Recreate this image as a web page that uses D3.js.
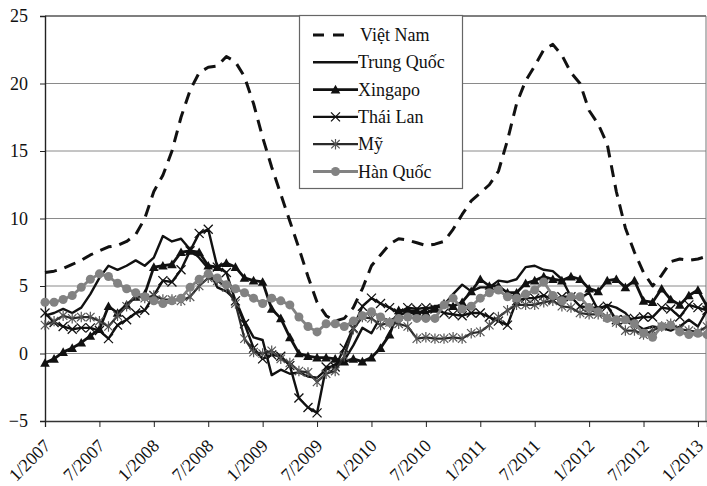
<!DOCTYPE html>
<html>
<head>
<meta charset="utf-8">
<script src="https://cdn.jsdelivr.net/npm/d3@7"></script>
<style>
html,body{margin:0;padding:0;background:#fff;}
svg{display:block;}
text{font-family:"Liberation Serif","Times New Roman",serif;}
</style>
</head>
<body>
<svg id="chart" width="707" height="486"></svg>
<script>
// ---- data (monthly, 1/2007 .. 2/2013) ----
const nMonths = 74;
const tickLabels = ["1/2007","7/2007","1/2008","7/2008","1/2009","7/2009","1/2010","7/2010","1/2011","7/2011","1/2012","7/2012","1/2013"];
const yTicks = [-5, 0, 5, 10, 15, 20, 25];

const vietNam = [
  6.0, 6.1, 6.3, 6.6, 6.9, 7.3, 7.6, 7.9, 8.0, 8.3, 8.8, 10.0,
  12.0, 13.2, 15.0, 17.5, 19.5, 20.8, 21.2, 21.3, 22.0, 21.6, 20.5, 18.5,
  16.0, 13.8, 11.8, 9.8, 7.8, 5.7, 3.8, 2.8, 2.4, 2.6, 3.4, 4.8,
  6.5, 7.3, 8.1, 8.5, 8.4, 8.2, 8.0, 8.1, 8.3, 9.2, 10.3, 11.3,
  11.9, 12.5, 13.5, 15.8, 18.5, 20.2, 21.3, 22.5, 22.9, 22.1, 20.8, 20.0,
  18.0, 17.0, 15.5, 12.0, 9.3, 7.5, 6.0, 5.0, 5.8, 6.8, 7.0, 6.9,
  7.0, 7.2
];
const trungQuoc = [
  2.8, 3.0, 3.3, 3.0, 3.4, 4.4, 5.6, 6.5, 6.2, 6.5, 6.9, 6.5,
  7.1, 8.7, 8.3, 8.5, 7.7, 7.1, 6.3, 4.9, 4.6, 4.0, 2.4, 1.2,
  1.0, -1.6, -1.2, -1.5, -1.4, -1.7, -1.8, -1.2, -0.8, -0.5, 0.6, 1.9,
  1.5, 2.7, 2.4, 2.8, 3.1, 2.9, 3.3, 3.5, 3.6, 4.4, 5.1, 4.6,
  4.9, 4.9, 5.4, 5.3, 5.5, 6.4, 6.5, 6.2, 6.1, 5.5, 4.2, 4.1,
  4.5, 3.2, 3.6, 3.4, 3.0, 2.2, 1.8, 2.0, 1.9, 1.7, 2.0, 2.5,
  2.0, 3.2
];
const xingapo = [
  -0.7, -0.4, 0.1, 0.4, 0.8, 1.3, 1.8, 3.5, 3.0, 3.6, 4.2, 4.4,
  6.4, 6.5, 6.6, 7.5, 7.6, 7.5, 6.5, 6.4, 6.7, 6.4, 5.6, 5.4,
  5.3, 3.3, 2.6, 1.2, 0.0, -0.2, -0.3, -0.3, -0.4, -0.6, -0.4, -0.6,
  -0.3, 0.4, 1.4, 3.2, 3.2, 3.1, 3.0, 3.3, 3.7, 3.5, 3.8, 4.6,
  5.5, 5.0, 5.0, 4.5, 4.5, 5.2, 5.4, 5.7, 5.5, 5.4, 5.7, 5.5,
  4.8, 4.6, 5.4, 5.5, 4.9, 5.4, 3.9, 3.8, 4.8, 4.0, 3.6, 4.3,
  4.7, 3.5
];
const thaiLan = [
  3.0, 2.3, 2.0, 1.8, 1.9, 1.9, 1.7, 1.1, 2.1, 2.5, 3.0, 3.2,
  4.3, 5.4, 5.3, 6.2, 7.6, 8.9, 9.2, 6.4, 6.0, 3.9, 2.2, 0.4,
  -0.4, -0.1, -0.2, -0.9, -3.3, -4.0, -4.4, -1.0, -1.0, 0.4, 1.9, 3.5,
  4.1, 3.7, 3.4, 3.0, 3.4, 3.3, 3.4, 3.3, 3.0, 2.9, 2.8, 3.0,
  3.0, 2.7, 2.4, 2.1, 3.9, 4.1, 4.1, 4.3, 4.0, 4.2, 4.2, 3.5,
  3.4, 3.4, 3.5, 2.5, 2.5, 2.6, 2.7, 2.7, 3.4, 3.3, 2.7, 3.6,
  3.4, 3.2
];
const my = [
  2.1, 2.4, 2.8, 2.6, 2.7, 2.7, 2.4, 2.0, 2.8, 3.5, 4.3, 4.1,
  4.3, 4.0, 4.0, 3.9, 4.2, 5.0, 5.6, 5.4, 4.9, 3.7, 1.1, 0.1,
  0.0, 0.2, -0.4, -0.7, -1.3, -1.4, -2.1, -1.5, -1.3, -0.2, 1.8, 2.7,
  2.6, 2.1, 2.3, 2.2, 2.0, 1.1, 1.2, 1.1, 1.1, 1.2, 1.1, 1.5,
  1.6, 2.1, 2.7, 3.2, 3.6, 3.6, 3.6, 3.8, 3.9, 3.5, 3.4, 3.0,
  2.9, 2.9, 2.7, 2.3, 1.7, 1.7, 1.4, 1.7, 2.0, 2.2, 1.8, 1.7,
  1.6, 2.0
];
const hanQuoc = [
  3.8, 3.8, 4.0, 4.3, 4.9, 5.5, 5.9, 5.7, 5.2, 4.8, 4.5, 4.2,
  3.9, 3.7, 3.9, 4.1, 4.9, 5.5, 5.9, 5.6, 5.1, 4.8, 4.5, 4.1,
  3.7, 4.1, 3.9, 3.6, 2.7, 2.0, 1.6, 2.2, 2.2, 2.0, 2.4, 2.8,
  3.1, 2.7, 2.3, 2.6, 2.7, 2.6, 2.6, 2.6, 3.6, 4.1, 3.3, 3.5,
  4.1, 4.5, 4.7, 4.2, 4.1, 4.4, 4.7, 5.3, 4.3, 3.9, 4.2, 4.2,
  3.4, 3.1, 2.6, 2.5, 2.5, 2.2, 1.5, 1.2, 2.0, 2.1, 1.6, 1.4,
  1.5, 1.4
];

const seriesNames = ["Việt Nam","Trung Quốc","Xingapo","Thái Lan","Mỹ","Hàn Quốc"];

// ---- styles ----
const styles = {
  "Việt Nam":   {values: vietNam,   color:"#111", width:3.0, dash:"12,8", marker:null},
  "Trung Quốc": {values: trungQuoc, color:"#111", width:2.4, dash:null, marker:null},
  "Xingapo":    {values: xingapo,   color:"#111", width:2.8, dash:null, marker:"triangle"},
  "Thái Lan":   {values: thaiLan,   color:"#111", width:2.4, dash:null, marker:"x"},
  "Mỹ":         {values: my,        color:"#2a2a2a", width:2.2, dash:null, marker:"star"},
  "Hàn Quốc":   {values: hanQuoc,   color:"#828282", width:2.8, dash:null, marker:"circle"}
};

const svg = d3.select("#chart");
const pL = 45, pR = 706, pT = 16, pB = 421;

const x = d3.scaleLinear().domain([0, nMonths - 1]).range([pL, 707]);
const y = d3.scaleLinear().domain([-5, 25]).range([pB, pT]);

// gridlines
svg.append("g").selectAll("line").data(yTicks.filter(v => v > -5 && v < 25)).join("line")
  .attr("x1", pL).attr("x2", pR)
  .attr("y1", d => y(d)).attr("y2", d => y(d))
  .attr("stroke", "#8a8a8a").attr("stroke-width", 1);

// plot border (top and right)
svg.append("line").attr("x1", pL).attr("x2", pR).attr("y1", y(25)).attr("y2", y(25))
  .attr("stroke", "#555").attr("stroke-width", 1.3);
svg.append("line").attr("x1", pR).attr("x2", pR).attr("y1", pT).attr("y2", pB)
  .attr("stroke", "#777").attr("stroke-width", 1);

// axes
const yAxis = d3.axisLeft(y).tickValues(yTicks).tickSize(5).tickPadding(12).tickFormat(d3.format("d"));
const gy = svg.append("g").attr("transform", `translate(${pL},0)`).call(yAxis);
gy.select(".domain").attr("stroke", "#222").attr("stroke-width", 1.4);
gy.selectAll(".tick line").attr("stroke", "#222");
gy.selectAll("text").attr("font-size", 18).attr("fill", "#111")
  .attr("font-family", "'Liberation Serif', serif");

const tickIdx = tickLabels.map((_, i) => i * 6);
const xAxis = d3.axisBottom(x).tickValues(tickIdx).tickSize(6).tickFormat((d, i) => tickLabels[i]);
const gx = svg.append("g").attr("transform", `translate(0,${pB})`).call(xAxis);
gx.select(".domain").attr("stroke", "#333").attr("stroke-width", 1.3);
gx.selectAll(".tick line").attr("stroke", "#222");
gx.selectAll("text").attr("font-size", 18).attr("fill", "#111")
  .attr("font-family", "'Liberation Serif', serif")
  .attr("text-anchor", "end")
  .attr("x", 0).attr("y", 0).attr("dy", 0)
  .attr("transform", "translate(6,26) rotate(-45)");

// markers
function drawMarker(g, type, cx, cy, color) {
  if (type === "triangle") {
    const s = 4.8;
    g.append("path").attr("d", `M${cx},${cy - s} L${cx + s},${cy + s * 0.8} L${cx - s},${cy + s * 0.8} Z`)
      .attr("fill", "#111");
  } else if (type === "x") {
    const s = 4.5;
    g.append("path").attr("d", `M${cx - s},${cy - s} L${cx + s},${cy + s} M${cx - s},${cy + s} L${cx + s},${cy - s}`)
      .attr("stroke", "#111").attr("stroke-width", 1.3).attr("fill", "none");
  } else if (type === "star") {
    const s = 4.2;
    g.append("path").attr("d", `M${cx - s},${cy - s} L${cx + s},${cy + s} M${cx - s},${cy + s} L${cx + s},${cy - s} M${cx},${cy - s - 1} L${cx},${cy + s + 1}`)
      .attr("stroke", "#555").attr("stroke-width", 1.2).attr("fill", "none");
  } else if (type === "circle") {
    g.append("circle").attr("cx", cx).attr("cy", cy).attr("r", 4.5).attr("fill", color);
  }
}

const line = d3.line().x((d, i) => x(i)).y(d => y(d));
const plot = svg.append("g");
seriesNames.forEach(name => {
  const st = styles[name];
  const g = plot.append("g");
  g.append("path").datum(st.values).attr("d", line)
    .attr("fill", "none").attr("stroke", st.color).attr("stroke-width", st.width)
    .attr("stroke-linejoin", "round")
    .attr("stroke-dasharray", st.dash);
  if (st.marker) {
    st.values.forEach((v, i) => drawMarker(g, st.marker, x(i), y(v), st.color));
  }
});

// legend
const lg = svg.append("g");
lg.append("rect").attr("x", 299.5).attr("y", 15.5).attr("width", 163).attr("height", 173)
  .attr("fill", "#fff").attr("stroke", "#666").attr("stroke-width", 1.2);
seriesNames.forEach((name, i) => {
  const st = styles[name];
  const ly = 35 + i * 27.3;
  const g = lg.append("g");
  if (st.dash) {
    g.append("line").attr("x1", 313).attr("x2", 349).attr("y1", ly).attr("y2", ly)
      .attr("stroke", st.color).attr("stroke-width", st.width).attr("stroke-dasharray", "11,9");
  } else {
    g.append("line").attr("x1", 313).attr("x2", 358).attr("y1", ly).attr("y2", ly)
      .attr("stroke", st.color).attr("stroke-width", st.width);
    if (st.marker) drawMarker(g, st.marker, 335.5, ly, st.color);
  }
  g.append("text").attr("x", st.dash ? 360 : 358).attr("y", ly + 6)
    .attr("font-size", 18).attr("fill", "#111").text(name);
});
</script>
</body>
</html>
